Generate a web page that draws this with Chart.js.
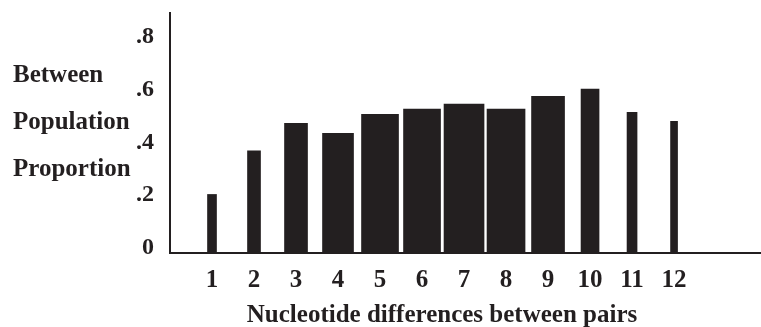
<!DOCTYPE html>
<html>
<head>
<meta charset="utf-8">
<script src="https://cdn.jsdelivr.net/npm/chart.js@4"></script>
<style>
  html, body { margin: 0; padding: 0; background: #fff; }
  #wrap { width: 761px; height: 327px; position: relative; }
</style>
</head>
<body>
<div id="wrap"><canvas id="myChart" width="761" height="327"></canvas></div>
<script>
// Data
const categories = [1, 2, 3, 4, 5, 6, 7, 8, 9, 10, 11, 12];
const proportions = [0.222, 0.387, 0.492, 0.454, 0.526, 0.546, 0.565, 0.546, 0.594, 0.622, 0.533, 0.499];
const barWidths = [9, 13, 23, 31, 37, 37, 40, 38, 33, 18, 10, 7];
const yTickValues = [0, 0.2, 0.4, 0.6, 0.8];
const yTickLabels = ['0', '.2', '.4', '.6', '.8'];
const yTitleLines = ['Between', 'Population', 'Proportion'];
const xTitle = 'Nucleotide differences between pairs';

const ink = '#231f20';
const serif = '"Liberation Serif", "Times New Roman", serif';

// one dataset per bar so every bar can keep its own width
const datasets = categories.map((c, i) => ({
    data: [{ x: c, y: proportions[i] }],
    barThickness: barWidths[i],
    backgroundColor: ink,
    borderWidth: 0
}));

// Axis titles: y title is three horizontal lines, x title sits a bit left of centre
const titlesPlugin = {
    id: 'axisTitles',
    afterDraw(chart) {
        const ctx = chart.ctx;
        ctx.save();
        ctx.fillStyle = ink;
        ctx.font = 'bold 25px ' + serif;
        ctx.textBaseline = 'alphabetic';
        ctx.textAlign = 'left';
        yTitleLines.forEach((line, i) => {
            ctx.fillText(line, 13, 82 + i * 47);
        });
        ctx.textAlign = 'center';
        ctx.fillText(xTitle, 442, 322);
        ctx.restore();
    }
};

const ctx = document.getElementById('myChart').getContext('2d');
new Chart(ctx, {
    type: 'bar',
    data: { datasets: datasets },
    options: {
        responsive: false,
        animation: false,
        layout: { padding: { left: 0, top: 13, right: 0, bottom: 0 } },
        plugins: { legend: { display: false }, tooltip: { enabled: false } },
        scales: {
            x: {
                type: 'linear',
                stacked: true,
                offset: false,
                min: 0,
                max: 14.07,
                afterBuildTicks: s => { s.ticks = categories.map(v => ({ value: v })); },
                afterFit: s => { s.height = 74; s.paddingLeft = 0; s.paddingRight = 0; },
                grid: { display: false, drawTicks: false },
                border: { display: true, color: ink, width: 2 },
                ticks: {
                    autoSkip: false,
                    maxRotation: 0,
                    padding: 13,
                    color: ink,
                    font: { family: serif, size: 25, weight: 'bold' },
                    callback: v => String(v)
                }
            },
            y: {
                min: 0,
                max: 0.91,
                afterBuildTicks: s => { s.ticks = yTickValues.map(v => ({ value: v })); },
                afterFit: s => { s.width = 170; s.paddingTop = 0; s.paddingBottom = 0; },
                grid: { display: false, drawTicks: false },
                border: { display: true, color: ink, width: 2 },
                ticks: {
                    padding: 16,
                    labelOffset: -5,
                    color: ink,
                    font: { family: serif, size: 24, weight: 'bold' },
                    callback: (v, i) => yTickLabels[i]
                }
            }
        }
    },
    plugins: [titlesPlugin]
});
</script>
</body>
</html>
